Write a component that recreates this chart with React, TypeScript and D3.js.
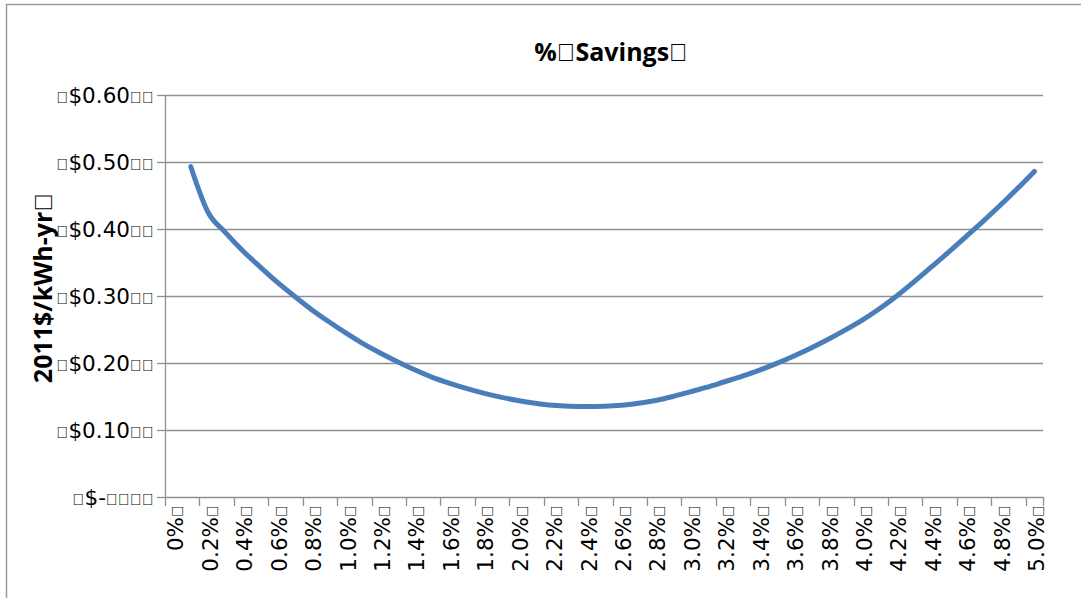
import React from "react";
import * as d3 from "d3";

const BOX = "\uF020";

const categories = [
  "0%", "0.1%", "0.2%", "0.3%", "0.4%", "0.5%", "0.6%", "0.7%", "0.8%", "0.9%",
  "1.0%", "1.1%", "1.2%", "1.3%", "1.4%", "1.5%", "1.6%", "1.7%", "1.8%", "1.9%",
  "2.0%", "2.1%", "2.2%", "2.3%", "2.4%", "2.5%", "2.6%", "2.7%", "2.8%", "2.9%",
  "3.0%", "3.1%", "3.2%", "3.3%", "3.4%", "3.5%", "3.6%", "3.7%", "3.8%", "3.9%",
  "4.0%", "4.1%", "4.2%", "4.3%", "4.4%", "4.5%", "4.6%", "4.7%", "4.8%", "4.9%",
  "5.0%",
];

const costPerKWhYr: (number | null)[] = [
  null, 0.493, 0.425, 0.395, 0.368, 0.344, 0.321, 0.3, 0.28, 0.262,
  0.245, 0.229, 0.215, 0.202, 0.19, 0.179, 0.17, 0.162, 0.155, 0.149,
  0.144, 0.14, 0.137, 0.1355, 0.135, 0.1355, 0.137, 0.14, 0.144, 0.15,
  0.157, 0.164, 0.172, 0.18, 0.189, 0.199, 0.21, 0.222, 0.235, 0.249,
  0.264, 0.281, 0.3, 0.321, 0.343, 0.365, 0.388, 0.411, 0.435, 0.46,
  0.486,
];

const yTicks = [0, 0.1, 0.2, 0.3, 0.4, 0.5, 0.6];
const yTickLabels = ["$-", "$0.10", "$0.20", "$0.30", "$0.40", "$0.50", "$0.60"];

const titleParts = ["%", "Savings"];
const yTitleText = "2011$/kWh-yr";

export default function App() {
  const W = 1081;
  const H = 598;
  const left = 165;
  const right = 1043;
  const top = 95;
  const bottom = 497;

  const x = d3.scaleBand<string>().domain(categories).range([left, right]).paddingInner(0).paddingOuter(0);
  const y = d3.scaleLinear().domain([0, 0.6]).range([bottom, top]);
  const step = x.step();

  const pts = categories
    .map((c, i) => ({ c, v: costPerKWhYr[i] }))
    .filter((d) => d.v !== null) as { c: string; v: number }[];

  const line = d3
    .line<{ c: string; v: number }>()
    .x((d) => (x(d.c) as number) + step / 2)
    .y((d) => y(d.v))
    .curve(d3.curveMonotoneX);

  const labeled = categories.filter((_, i) => i % 2 === 0);
  const tickXs = categories
    .map((c, i) => ({ c, i }))
    .filter((d) => d.i % 2 === 0)
    .map((d) => x(d.c) as number)
    .concat([right]);

  const gridColor = "#8f8f8f";
  const tickFont = "'DejaVu Sans', sans-serif";
  const boldFont = "'Open Sans', 'Liberation Sans', sans-serif";
  const boxFont = "'Liberation Sans', sans-serif";

  return (
    <svg
      width={W}
      height={H}
      style={{ position: "absolute", left: 0, top: 0, background: "#fff" }}
    >
      <rect x={6.5} y={4.5} width={1200} height={800} fill="#fff" stroke="#9a9a9a" strokeWidth={1.5} />

      {/* gridlines */}
      {yTicks.map((t) => (
        <line key={"g" + t} x1={left} x2={right} y1={Math.round(y(t)) + 0.5} y2={Math.round(y(t)) + 0.5} stroke={gridColor} strokeWidth={1.3} />
      ))}
      {/* y ticks */}
      {yTicks.map((t) => (
        <line key={"yt" + t} x1={157} x2={left} y1={Math.round(y(t)) + 0.5} y2={Math.round(y(t)) + 0.5} stroke={gridColor} strokeWidth={1.3} />
      ))}
      {/* y axis */}
      <line x1={left + 0.5} x2={left + 0.5} y1={top} y2={bottom} stroke={gridColor} strokeWidth={1.3} />
      {/* x axis ticks */}
      {tickXs.map((tx, i) => (
        <line key={"xt" + i} x1={Math.round(tx) + 0.5} x2={Math.round(tx) + 0.5} y1={bottom} y2={bottom + 9} stroke={gridColor} strokeWidth={1.3} />
      ))}

      {/* y tick labels */}
      {yTicks.map((t, i) => (
        <text
          key={"yl" + t}
          x={154}
          y={y(t)}
          dy="0.36em"
          textAnchor="end"
          fontFamily={tickFont}
          fontSize={21.5}
          fill="#000"
        >
          <tspan fontFamily={boxFont} fontSize={16}>{BOX}</tspan>
          <tspan fontSize={21.5}>{yTickLabels[i]}</tspan>
          <tspan fontFamily={boxFont} fontSize={16}>{t === 0 ? BOX + BOX + BOX + BOX : BOX + BOX}</tspan>
        </text>
      ))}

      {/* x tick labels */}
      {labeled.map((c) => {
        const cx = (x(c) as number) + step / 2 + 2;
        const ty = 505;
        return (
          <text
            key={"xl" + c}
            transform={`translate(${cx},${ty}) rotate(-90)`}
            dy="0.36em"
            textAnchor="end"
            fontFamily={tickFont}
            fontSize={21.5}
            fill="#000"
          >
            {c}
            <tspan fontFamily={boxFont} fontSize={16}>{BOX}</tspan>
          </text>
        );
      })}

      {/* line */}
      <path d={line(pts) || ""} fill="none" stroke="#4A7EBB" strokeWidth={5} strokeLinecap="round" strokeLinejoin="round" />

      {/* title */}
      <text x={611} y={61} textAnchor="middle" fontFamily={boldFont} fontWeight="bold" fontSize={25} fill="#000">
        {titleParts[0]}
        <tspan fontFamily={boxFont}>{BOX}</tspan>
        <tspan>{titleParts[1]}</tspan>
        <tspan fontFamily={boxFont}>{BOX}</tspan>
      </text>

      {/* y title */}
      <text
        transform={`translate(52,${(top + bottom) / 2 - 8}) rotate(-90)`}
        textAnchor="middle"
        fontFamily={boldFont}
        fontWeight="bold"
        fontSize={25}
        fill="#000"
      >
        {yTitleText}
        <tspan fontFamily={boxFont}>{BOX}</tspan>
      </text>
    </svg>
  );
}
